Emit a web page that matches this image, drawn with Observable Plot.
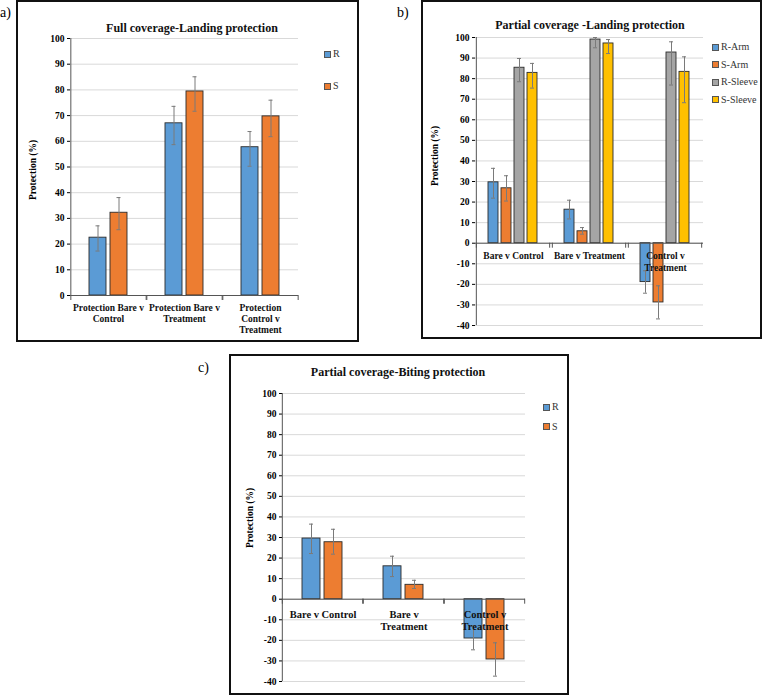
<!DOCTYPE html>
<html><head><meta charset="utf-8">
<script src="https://cdn.jsdelivr.net/npm/d3@7"></script>
<script src="https://cdn.jsdelivr.net/npm/@observablehq/plot@0.6"></script>
<style>
body{margin:0;background:#fff;}
#root{position:relative;width:762px;height:696px;overflow:hidden;font-family:"Liberation Serif","Tinos","DejaVu Serif",serif;color:#000;}
.box{position:absolute;border:2px solid #111;box-sizing:border-box;}
.svgwrap{position:absolute;}
.title{position:absolute;font-weight:bold;font-size:12px;white-space:nowrap;transform:translate(-50%,-50%);color:#111;}
.ylab{position:absolute;font-weight:bold;font-size:9.5px;white-space:nowrap;transform:translate(-50%,-50%) rotate(-90deg);}
.leg{position:absolute;font-size:10px;color:#333;white-space:nowrap;transform:translateY(-50%);display:flex;align-items:center;line-height:1;}
.sw{display:inline-block;width:5px;height:5px;border:1px solid #555;margin-right:2px;}
.plab{position:absolute;font-size:14px;transform:translateY(-50%);line-height:1;}
</style></head><body><div id="root"></div>
<script>
// ---------- Data ----------
// Panel a: Full coverage - Landing protection
const catsA = ["Protection Bare v\nControl", "Protection Bare v\nTreatment", "Protection\nControl v\nTreatment"];
const seriesA = ["R", "S"];
const a_R = [22.5, 67.0, 57.7];
const a_R_lo = [17.3, 58.7, 50.3];
const a_R_hi = [27.1, 73.6, 63.8];
const a_S = [32.2, 79.4, 69.7];
const a_S_lo = [25.6, 71.7, 61.8];
const a_S_hi = [38.1, 85.1, 76.0];

// Panel b: Partial coverage - Landing protection
const catsB = ["Bare v Control", "Bare v Treatment", "Control v\nTreatment"];
const seriesB = ["R-Arm", "S-Arm", "R-Sleeve", "S-Sleeve"];
const b_RArm = [29.6, 16.3, -18.9];
const b_RArm_lo = [21.9, 11.8, -24.3];
const b_RArm_hi = [36.4, 20.9, -13.4];
const b_SArm = [26.7, 5.8, -28.8];
const b_SArm_lo = [20.5, 4.4, -36.8];
const b_SArm_hi = [32.8, 7.6, -20.7];
const b_RSleeve = [85.3, 99.0, 92.7];
const b_RSleeve_lo = [78.5, 95.0, 76.9];
const b_RSleeve_hi = [89.8, 100.0, 97.9];
const b_SSleeve = [82.8, 97.1, 83.3];
const b_SSleeve_lo = [75.4, 92.2, 68.3];
const b_SSleeve_hi = [87.4, 99.0, 90.6];

// Panel c: Partial coverage - Biting protection
const catsC = ["Bare v Control", "Bare v\nTreatment", "Control v\nTreatment"];
const seriesC = ["R", "S"];
const c_R = [29.5, 16.0, -19.1];
const c_R_lo = [22.2, 11.0, -24.6];
const c_R_hi = [36.5, 20.9, -13.0];
const c_S = [27.7, 7.0, -29.3];
const c_S_lo = [21.9, 5.2, -37.4];
const c_S_hi = [34.0, 9.2, -21.2];

const ticksA = [0, 10, 20, 30, 40, 50, 60, 70, 80, 90, 100];
const ticksBC = [-40, -30, -20, -10, 0, 10, 20, 30, 40, 50, 60, 70, 80, 90, 100];

const colorsA = ["#5B9BD5", "#ED7D31"];
const colorsB = ["#5B9BD5", "#ED7D31", "#A5A5A5", "#FFC000"];

const FONT = "'Liberation Serif', Tinos, 'DejaVu Serif', serif";

// ---------- Build rows ----------
function rows(cats, series, vals, los, his) {
  const out = [];
  cats.forEach((c, i) => series.forEach((s, j) => out.push({cat: c, series: s, value: vals[j][i], lo: los[j][i], hi: his[j][i]})));
  return out;
}
const dataA = rows(catsA, seriesA, [a_R, a_S], [a_R_lo, a_S_lo], [a_R_hi, a_S_hi]);
const dataB = rows(catsB, seriesB, [b_RArm, b_SArm, b_RSleeve, b_SSleeve],
  [b_RArm_lo, b_SArm_lo, b_RSleeve_lo, b_SSleeve_lo], [b_RArm_hi, b_SArm_hi, b_RSleeve_hi, b_SSleeve_hi]);
const dataC = rows(catsC, seriesC, [c_R, c_S], [c_R_lo, c_S_lo], [c_R_hi, c_S_hi]);

const root = document.getElementById("root");
function el(tag, cls, css, text) {
  const e = document.createElement(tag);
  if (cls) e.className = cls;
  Object.assign(e.style, css || {});
  if (text != null) e.textContent = text;
  root.appendChild(e);
  return e;
}

function panel(o) {
  const n = o.series.length;
  const plotW = o.w - o.mL - o.mR;
  const facetW = plotW / o.cats.length;
  const step = facetW / (n - o.pi + 2 * o.po);
  const bw = step * (1 - o.pi);
  const edge = step * o.po + bw / 2;
  const yDom = [o.ticks[0], o.ticks[o.ticks.length - 1]];
  const chart = Plot.plot({
    width: o.w, height: o.h,
    marginLeft: o.mL, marginRight: o.mR, marginTop: o.mT, marginBottom: o.mB,
    style: {fontFamily: FONT, fontSize: "9.5px", fontWeight: "bold", background: "transparent", color: "#000", overflow: "visible"},
    fx: {domain: o.cats, padding: 0, axis: null},
    x: {domain: o.series, paddingInner: o.pi, paddingOuter: o.po, axis: null},
    y: {domain: yDom, ticks: o.ticks, tickFormat: d => String(d), tickSize: 3, tickPadding: 3, label: null},
    color: {domain: o.series, range: o.colors},
    marks: [
      Plot.ruleY(o.ticks, {stroke: "#d9d9d9", strokeWidth: 1}),
      Plot.barY(o.data, {fx: "cat", x: "series", y: "value", fill: "series", stroke: "#2b2b2b", strokeWidth: 0.9}),
      Plot.ruleX(o.data, {fx: "cat", x: "series", y1: "lo", y2: "hi", stroke: "#7a7a7a", strokeWidth: 1}),
      Plot.tickY(o.data, {fx: "cat", x: "series", y: "lo", stroke: "#7a7a7a", strokeWidth: 1, insetLeft: o.cap, insetRight: o.cap}),
      Plot.tickY(o.data, {fx: "cat", x: "series", y: "hi", stroke: "#7a7a7a", strokeWidth: 1, insetLeft: o.cap, insetRight: o.cap}),
      Plot.ruleY([0], {stroke: "#555", strokeWidth: 1}),
      // y axis line (left edge of the first facet)
      Plot.ruleX([o.cats[0]], {fx: d => d, x: () => o.series[0], dx: -edge, y1: () => yDom[0], y2: () => yDom[1], stroke: "#555", strokeWidth: 1}),
      // category separator ticks
      Plot.ruleX([o.series[0]], {x: d => d, dx: -edge, y1: () => 0, y2: () => 0, insetBottom: -5, stroke: "#555", strokeWidth: 1}),
      Plot.ruleX([o.series[n - 1]], {x: d => d, dx: edge, y1: () => 0, y2: () => 0, insetBottom: -5, stroke: "#555", strokeWidth: 1}),
      Plot.text(o.cats, {fx: d => d, y: () => 0, text: d => d, dy: o.catDy, lineAnchor: "top", lineHeight: o.lh, fontSize: o.catFs, fontWeight: "bold", fill: "#111"})
    ]
  });
  const wrap = el("div", "svgwrap", {left: o.left + "px", top: o.top + "px", width: o.w + "px", height: o.h + "px"});
  wrap.appendChild(chart);
  el("div", "box", o.box);
  el("div", "title", {left: o.titleX + "px", top: o.titleY + "px"}, o.title);
  el("div", "ylab", {left: o.ylabX + "px", top: o.ylabY + "px"}, "Protection (%)");
  o.series.forEach((s, j) => {
    const d = el("div", "leg", {left: o.legX + "px", top: (o.legY + j * o.legDy) + "px"});
    const sw = document.createElement("span"); sw.className = "sw"; sw.style.background = o.colors[j];
    d.appendChild(sw);
    d.appendChild(document.createTextNode(s));
  });
}

panel({
  data: dataA, cats: catsA, series: seriesA, colors: colorsA, ticks: ticksA,
  left: 17, top: 0, w: 341, h: 341, mL: 52, mR: 60, mT: 38, mB: 46,
  pi: 0.18, po: 0.825, cap: 6.5, catDy: 7.5, lh: 1.16, catFs: 9.5,
  box: {left: "16px", top: "0px", width: "343px", height: "342px"},
  title: "Full coverage-Landing protection", titleX: 192, titleY: 28,
  ylabX: 33, ylabY: 170, legX: 324, legY: 54, legDy: 32
});
panel({
  data: dataB, cats: catsB, series: seriesB, colors: colorsB, ticks: ticksBC,
  left: 422, top: 0, w: 340, h: 338, mL: 52, mR: 59, mT: 37, mB: 13,
  pi: 0.21, po: 0.83, cap: 3, catDy: 7.5, lh: 1.26, catFs: 9.5,
  box: {left: "421px", top: "0px", width: "341px", height: "339px"},
  title: "Partial coverage -Landing protection", titleX: 590, titleY: 25,
  ylabX: 435, ylabY: 156, legX: 712, legY: 47, legDy: 17.6
});
panel({
  data: dataC, cats: catsC, series: seriesC, colors: colorsA, ticks: ticksBC,
  left: 230, top: 355, w: 339, h: 340, mL: 51, mR: 44, mT: 38, mB: 14,
  pi: 0.17, po: 0.855, cap: 7, catDy: 9.5, lh: 1.19, catFs: 10.5,
  box: {left: "229px", top: "354px", width: "340px", height: "341px"},
  title: "Partial coverage-Biting protection", titleX: 398, titleY: 372,
  ylabX: 250, ylabY: 518, legX: 543, legY: 407, legDy: 19.5
});

el("div", "plab", {left: "0px", top: "13px"}, "a)");
el("div", "plab", {left: "397px", top: "13px"}, "b)");
el("div", "plab", {left: "198px", top: "368px"}, "c)");
</script>
</body></html>
